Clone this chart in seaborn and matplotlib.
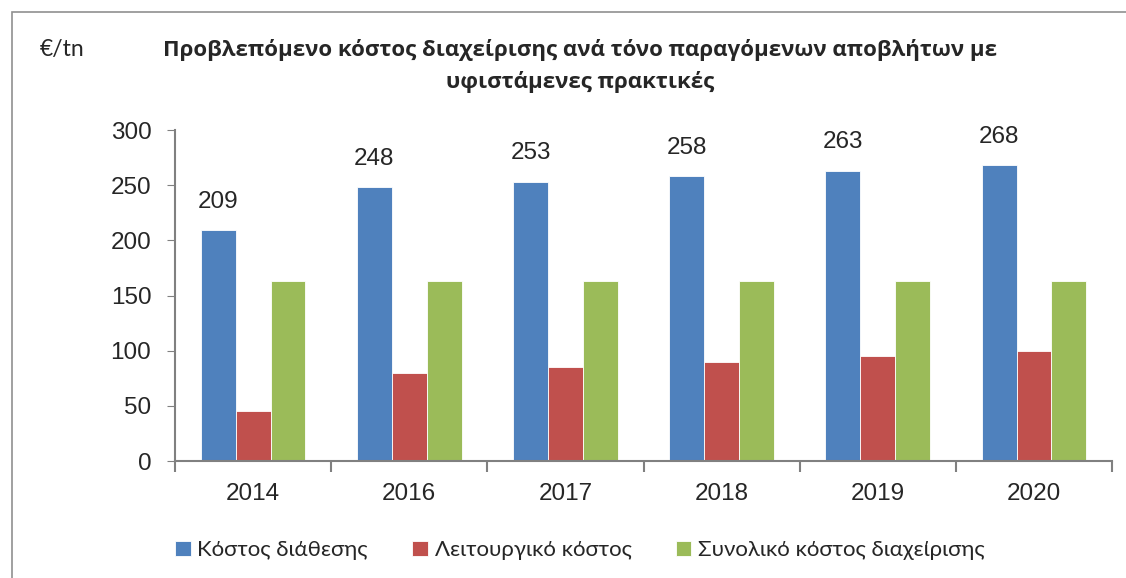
import matplotlib
matplotlib.use('Agg')
import matplotlib.pyplot as plt
from matplotlib.patches import Rectangle
import seaborn as sns
import numpy as np
import pandas as pd

# data
years = ["2014", "2016", "2017", "2018", "2019", "2020"]
kostos_diathesis = [209, 248, 253, 258, 263, 268]
leitourgiko = [45, 80, 85, 90, 95, 100]
synoliko = [163, 163, 163, 163, 163, 163]
series_names = ["Κόστος διάθεσης", "Λειτουργικό κόστος", "Συνολικό κόστος διαχείρισης"]
colors = ["#4F81BD", "#C0504D", "#9BBB59"]

df = pd.DataFrame({
    "year": years * 3,
    "value": kostos_diathesis + leitourgiko + synoliko,
    "series": [s for s in series_names for _ in years],
})

sns.set_style("white")
plt.rcParams['font.family'] = ['Liberation Sans', 'DejaVu Sans']

fig = plt.figure(figsize=(11.26, 5.78), dpi=100)
ax = fig.add_axes([0.1554, 0.2024, 0.8322, 0.5726])

sns.barplot(data=df, x="year", y="value", hue="series", palette=colors,
            saturation=1, width=0.67, edgecolor="white", linewidth=0.6,
            ax=ax, legend=True)

# labels above the blue bars
for i, v in enumerate(kostos_diathesis):
    ax.text(i - 0.223, v + 16, str(v), ha="center", va="bottom", fontsize=17.5)

ax.set_ylim(0, 300)
ax.set_xlim(-0.5, len(years) - 0.5)
ax.set_yticks(np.arange(0, 301, 50))
ax.tick_params(axis="y", labelsize=17.5, length=6, color="#808080", direction="out", left=True, pad=11)
ax.tick_params(axis="x", which="major", length=0, labelsize=17.5, pad=16)
ax.set_xticks(np.arange(-0.5, len(years), 1), minor=True)
ax.tick_params(axis="x", which="minor", length=8, color="#808080", bottom=True, direction="out", width=1.5)
ax.set_xlabel("")
ax.set_ylabel("")
for s in ["top", "right"]:
    ax.spines[s].set_visible(False)
for s in ["left", "bottom"]:
    ax.spines[s].set_color("#808080")
    ax.spines[s].set_linewidth(1.5)

handles, labels = ax.get_legend_handles_labels()
ax.legend_.remove()
fig.legend(handles, labels, loc="center", bbox_to_anchor=(0.515, 0.048), ncol=3,
           frameon=False, handlelength=0.7, handleheight=0.7,
           handletextpad=0.3, columnspacing=2.0,
           prop={"family": ["Lato", "DejaVu Sans"], "size": 16})

fig.text(0.515, 0.886, "Προβλεπόμενο κόστος διαχείρισης ανά τόνο παραγόμενων αποβλήτων με\nυφιστάμενες πρακτικές",
         ha="center", va="center", fontsize=16, fontweight="bold", linespacing=1.6,
         family=["Open Sans", "DejaVu Sans"])
fig.text(0.035, 0.915, "€/tn", ha="left", va="center", fontsize=16.5,
         family=["Lato", "DejaVu Sans"])

fig.patches.append(Rectangle((0.011, -0.01), 1.0, 0.99, transform=fig.transFigure,
                             fill=False, edgecolor="#909090", linewidth=1.2))

fig.savefig("out.png", dpi=100)
plt.close(fig)
